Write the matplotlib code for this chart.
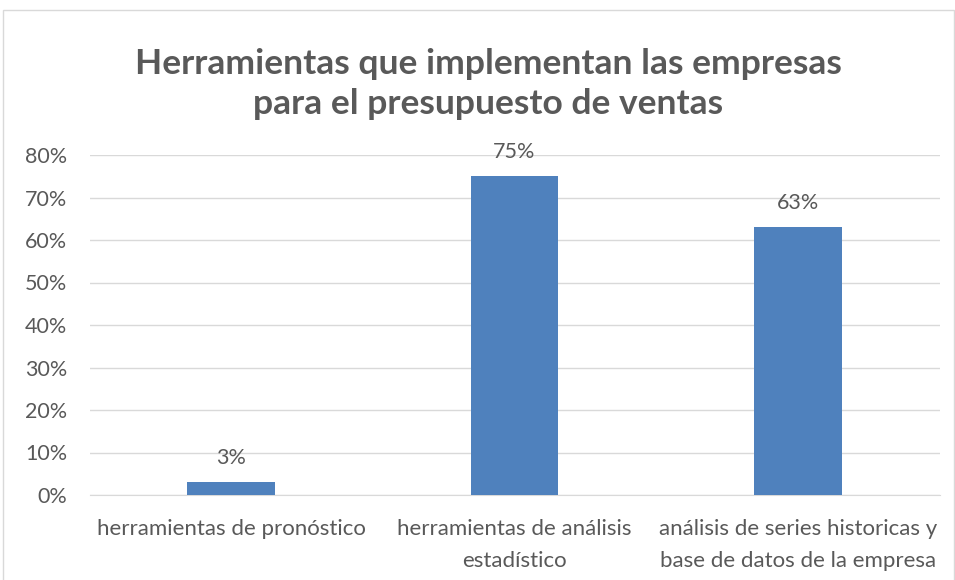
import matplotlib.pyplot as plt
import numpy as np
from matplotlib.patches import Rectangle
from matplotlib.ticker import PercentFormatter

# datos
categorias = ["herramientas de pronóstico",
              "herramientas de análisis\nestadístico",
              "análisis de series historicas y\nbase de datos de la empresa"]
valores = [0.03, 0.75, 0.63]
etiquetas = ["3%", "75%", "63%"]
titulo = "Herramientas que implementan las empresas\npara el presupuesto de ventas"

gris = "#595959"
plt.rcParams['font.family'] = ['Lato', 'DejaVu Sans']

fig = plt.figure(figsize=(9.55, 5.8), dpi=100)
# borde del gráfico
fig.patches.append(Rectangle((3/955, -0.1), 951/955, 1.1 - 10/580, transform=fig.transFigure,
                             fill=False, edgecolor="#d9d9d9", linewidth=1))

ax = fig.add_axes([89.5/955, 1 - 495/580, 850/955, 340/580])
x = np.arange(len(categorias))
ax.bar(x, valores, width=0.31, color="#4f81bd", zorder=3)
for xi, v, t in zip(x, valores, etiquetas):
    ax.text(xi, v + 0.033, t, ha="center", va="bottom", fontsize=15.5, color=gris)

ax.set_xlim(-0.5, 2.5)
ax.set_ylim(0, 0.8)
ax.set_yticks(np.arange(0, 0.81, 0.1))
ax.yaxis.set_major_formatter(PercentFormatter(1.0, decimals=0))
ax.set_xticks(x)
ax.set_xticklabels(categorias, fontsize=16, color=gris, linespacing=1.75)
ax.tick_params(axis="y", labelsize=15.5, labelcolor=gris, length=0, pad=16)
ax.tick_params(axis="x", length=0, pad=17)
ax.grid(axis="y", color="#d9d9d9", linewidth=1, zorder=0)
for s in ["top", "right", "left"]:
    ax.spines[s].set_visible(False)
ax.spines["bottom"].set_color("#d9d9d9")

fig.text(488/955, 1 - 84/580, titulo, ha="center", va="center", fontsize=25.5,
         fontweight="bold", color=gris, linespacing=1.3)

plt.savefig("out.png", dpi=100)
